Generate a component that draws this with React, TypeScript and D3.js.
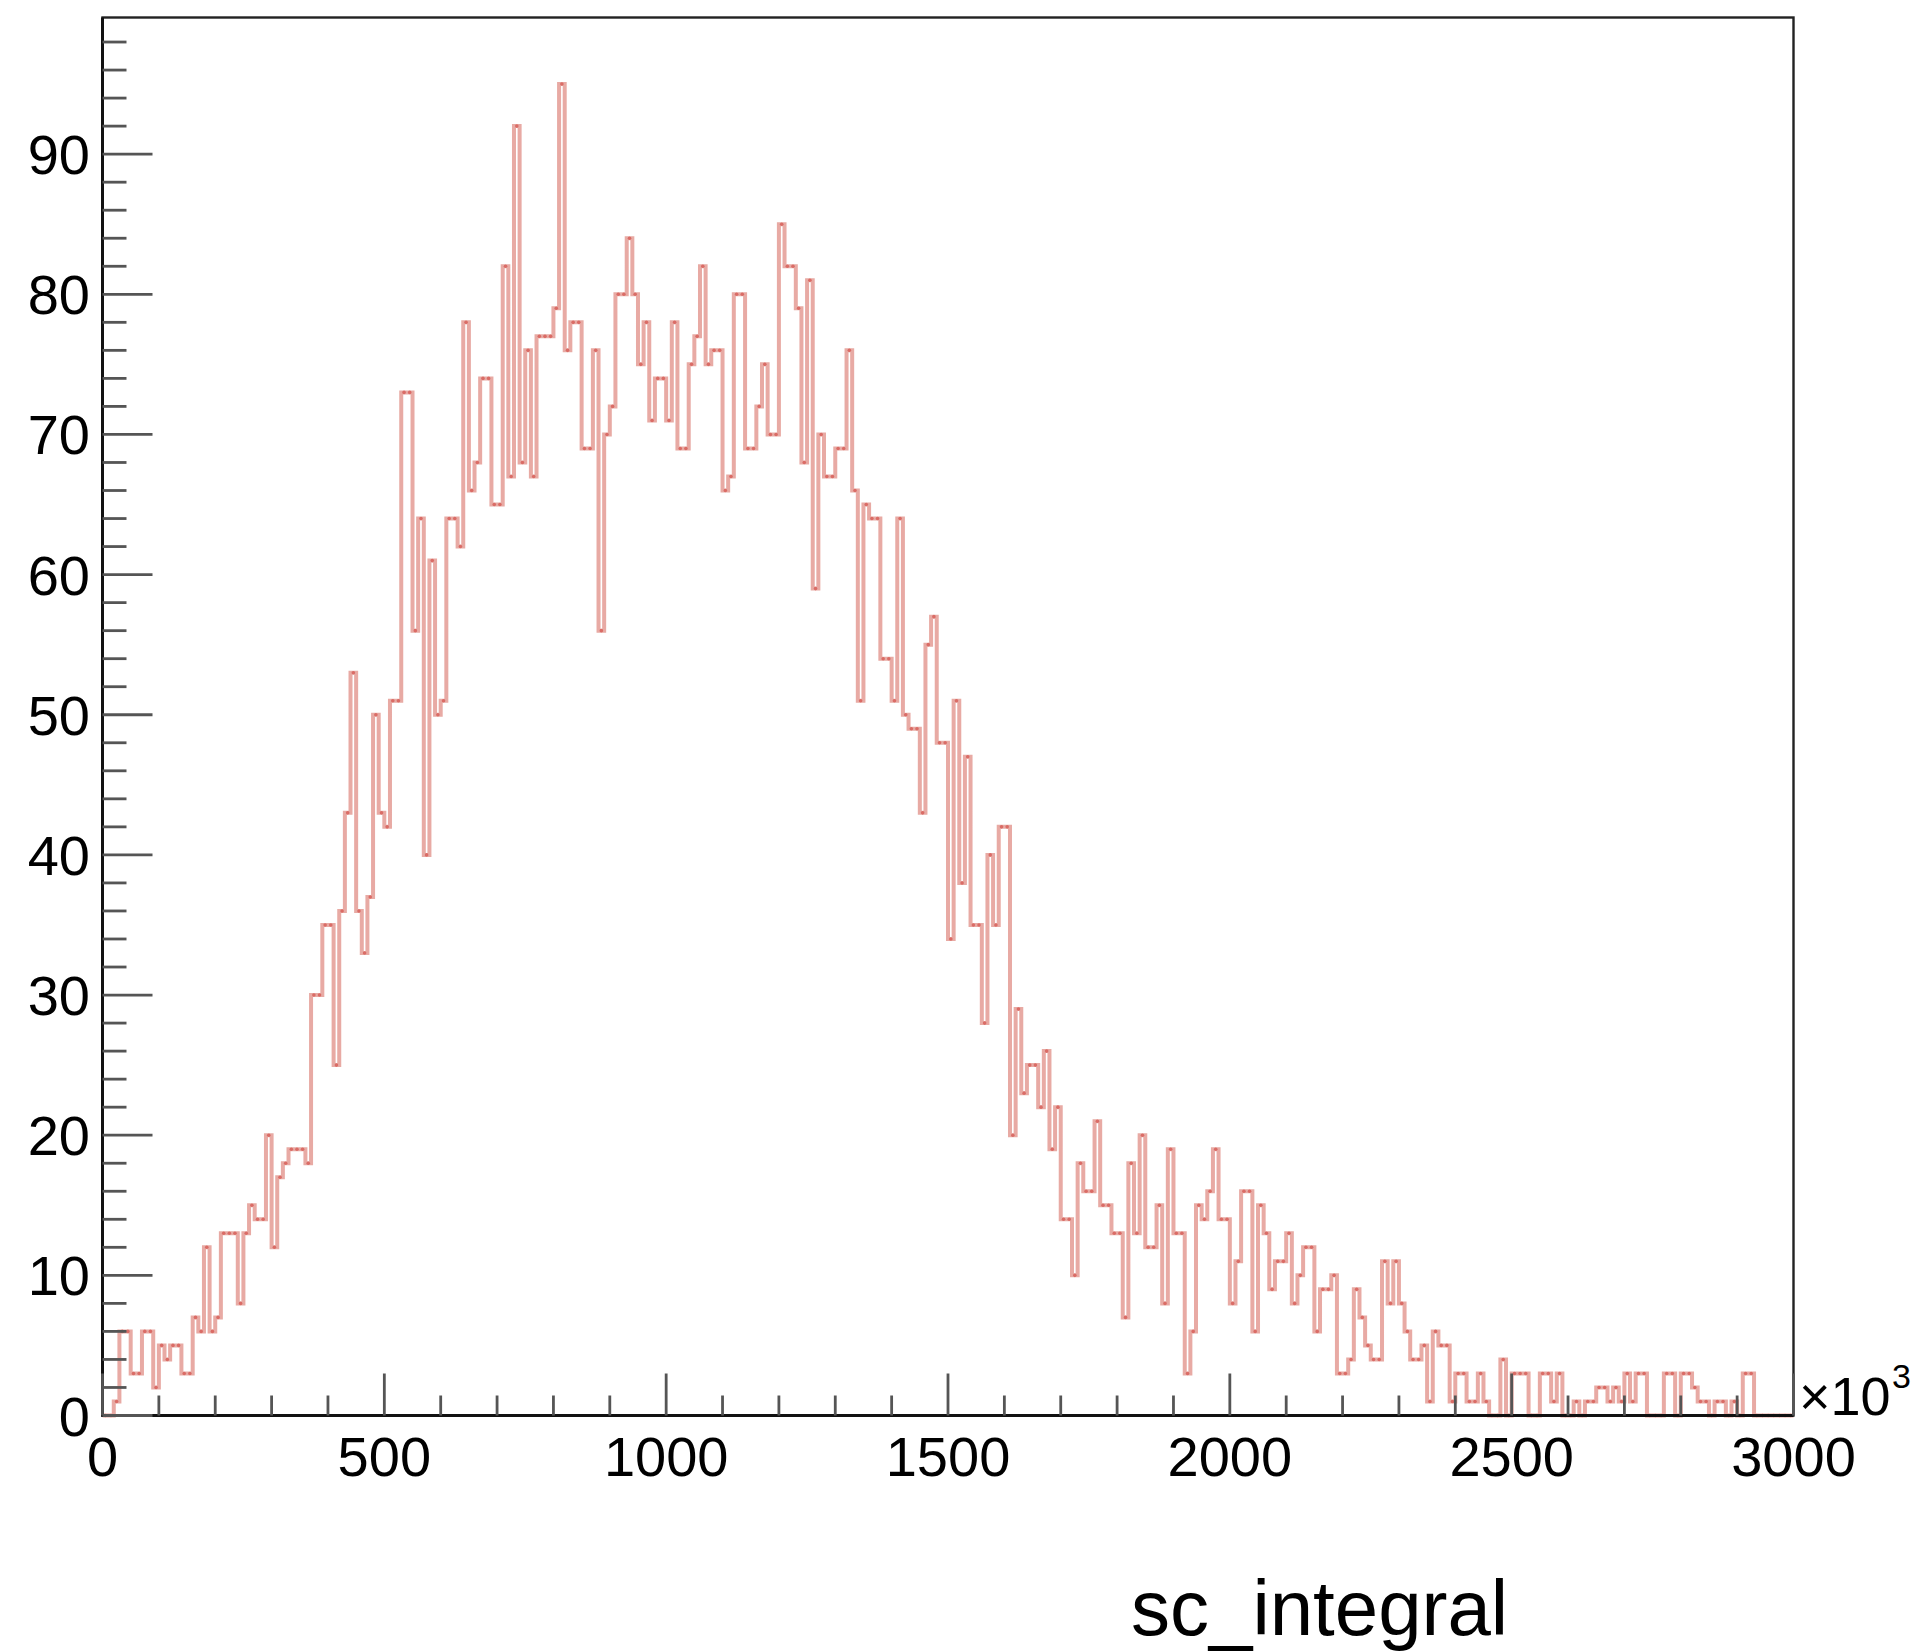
import React from "react";
import * as d3 from "d3";

// ---- data (counts per bin, 300 bins of width 10 over 0..3000, x10^3) ----
const binWidth = 10;
const xMin = 0;
const xMax = 3000;
const yMax = 99.75;

const counts: number[] = [
  // 0-49
  0, 0, 1, 6, 6, 3, 3, 6, 6, 2, 5, 4, 5, 5, 3, 3, 7, 6, 12, 6,
  7, 13, 13, 13, 8, 13, 15, 14, 14, 20, 12, 17, 18, 19, 19, 19, 18, 30, 30, 35,
  35, 25, 36, 43, 53, 36, 33, 37, 50, 43,
  // 50-99
  42, 51, 51, 73, 73, 56, 64, 40, 61, 50, 51, 64, 64, 62, 78, 66, 68, 74, 74, 65,
  65, 82, 67, 92, 68, 76, 67, 77, 77, 77, 79, 95, 76, 78, 78, 69, 69, 76, 56, 70,
  72, 80, 80, 84, 80, 75, 78, 71, 74, 74,
  // 100-149
  71, 78, 69, 69, 75, 77, 82, 75, 76, 76, 66, 67, 80, 80, 69, 69, 72, 75, 70, 70,
  85, 82, 82, 79, 68, 81, 59, 70, 67, 67, 69, 69, 76, 66, 51, 65, 64, 64, 54, 54,
  51, 64, 50, 49, 49, 43, 55, 57, 48, 48,
  // 150-199
  34, 51, 38, 47, 35, 35, 28, 40, 35, 42, 42, 20, 29, 23, 25, 25, 22, 26, 19, 22,
  14, 14, 10, 18, 16, 16, 21, 15, 15, 13, 13, 7, 18, 13, 20, 12, 12, 15, 8, 19,
  13, 13, 3, 6, 15, 14, 16, 19, 14, 14,
  // 200-249
  8, 11, 16, 16, 6, 15, 13, 9, 11, 11, 13, 8, 10, 12, 12, 6, 9, 9, 10, 3,
  3, 4, 9, 7, 5, 4, 4, 11, 8, 11, 8, 6, 4, 4, 5, 1, 6, 5, 5, 1,
  3, 3, 1, 1, 3, 1, 0, 0, 4, 0,
  // 250-299
  3, 3, 3, 0, 0, 3, 3, 1, 3, 0, 0, 1, 0, 1, 1, 2, 2, 1, 2, 1,
  3, 1, 3, 3, 0, 0, 0, 3, 3, 0, 3, 3, 2, 1, 1, 0, 1, 1, 0, 1,
  0, 3, 3, 0, 0, 0, 0, 0, 0, 0,
];

const yMajorTicks = [0, 10, 20, 30, 40, 50, 60, 70, 80, 90];
const xMajorTicks = [0, 500, 1000, 1500, 2000, 2500, 3000];
const xTitle = "sc_integral";

// ---- layout ----
const W = 1920;
const H = 1651;
const L = 102.5;
const R = 1793.5;
const T = 17.5;
const B = 1415.5;
const FONT = "'Liberation Sans', Arial, Helvetica, sans-serif";

export default function App() {
  const x = d3.scaleLinear().domain([xMin, xMax]).range([L, R]);
  const y = d3.scaleLinear().domain([0, yMax]).range([B, T]);

  const edges = d3.range(counts.length + 1).map((i) => xMin + i * binWidth);

  // step outline of the histogram
  const p = d3.path();
  p.moveTo(x(edges[0]), y(0));
  counts.forEach((c, i) => {
    p.lineTo(x(edges[i]), y(c));
    p.lineTo(x(edges[i + 1]), y(c));
  });
  p.lineTo(x(edges[counts.length]), y(0));

  const yMinor = d3.range(0, yMax, 2);
  const xMinor = d3.range(0, xMax + 1, 100);

  return (
    <div style={{ position: "absolute", left: 0, top: 0, width: W, height: H, background: "#fff" }}>
      <svg width={W} height={H} style={{ display: "block" }}>
        <rect x={0} y={0} width={W} height={H} fill="#fff" />

        {/* histogram */}
        <path d={p.toString()} fill="none" stroke="#e8aaa4" strokeWidth={4} strokeLinejoin="miter" />
        {counts.map((c, i) => (
          <circle
            key={"m" + i}
            cx={x(edges[i] + binWidth / 2)}
            cy={y(c)}
            r={1.8}
            fill="#d65c56"
            opacity={0.8}
          />
        ))}

        {/* frame */}
        <rect x={L} y={T} width={R - L} height={B - T} fill="none" stroke="#222" strokeWidth={2.4} />
        <line x1={L} y1={T} x2={L} y2={B + 1} stroke="#111" strokeWidth={3} />
        <line x1={L - 1} y1={B} x2={R} y2={B} stroke="#111" strokeWidth={3} />

        {/* y ticks */}
        {yMinor.map((v) => (
          <line
            key={"ym" + v}
            x1={L}
            x2={L + (v % 10 === 0 ? 50 : 24)}
            y1={y(v)}
            y2={y(v)}
            stroke="#555"
            strokeWidth={2.8}
          />
        ))}
        {yMajorTicks.map((v) => (
          <text
            key={"yl" + v}
            x={90}
            y={y(v) + 20}
            textAnchor="end"
            fontFamily={FONT}
            fontSize={56}
            fill="#000"
          >
            {v}
          </text>
        ))}

        {/* x ticks */}
        {xMinor.map((v) => (
          <line
            key={"xm" + v}
            x1={x(v)}
            x2={x(v)}
            y1={B}
            y2={B - (v % 500 === 0 ? 42 : 20)}
            stroke="#555"
            strokeWidth={2.8}
          />
        ))}
        {xMajorTicks.map((v) => (
          <text
            key={"xl" + v}
            x={x(v)}
            y={1476}
            textAnchor="middle"
            fontFamily={FONT}
            fontSize={56}
            fill="#000"
          >
            {v}
          </text>
        ))}

        {/* exponent */}
        <text x={1799} y={1415} fontFamily={FONT} fontSize={54} fill="#000">
          ×10
        </text>
        <text x={1892} y={1388} fontFamily={FONT} fontSize={34} fill="#000">
          3
        </text>

        {/* axis title */}
        <text x={1131} y={1635} fontFamily={FONT} fontSize={78} fill="#000">
          {xTitle}
        </text>
      </svg>
    </div>
  );
}
